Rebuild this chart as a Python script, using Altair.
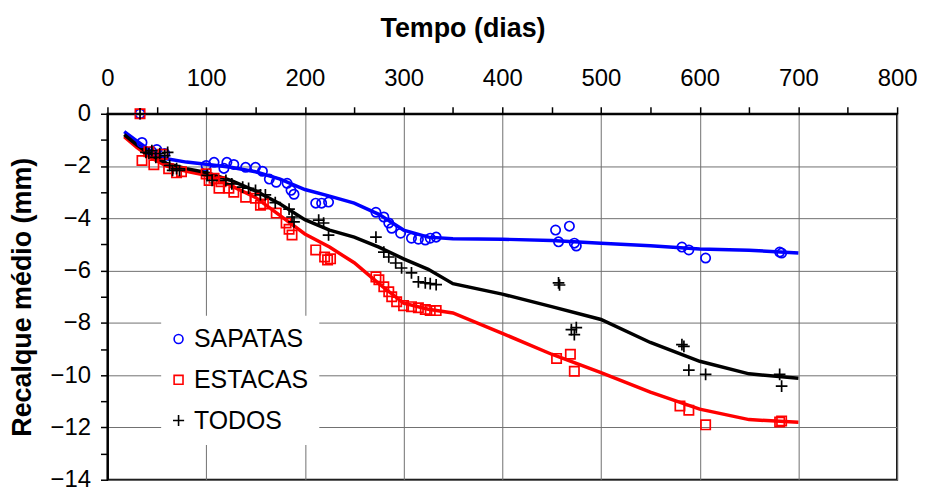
import altair as alt
import pandas as pd

# ---- data ----
series_names = ["SAPATAS", "ESTACAS", "TODOS"]

sap_x = [33, 35, 45, 50, 58, 100, 108, 118, 121, 128, 140, 150, 157, 164, 171, 182, 186, 189,
         211, 217, 224, 272, 280, 285, 288, 297, 308, 315, 322, 327, 333,
         454, 468, 457, 473, 475, 582, 589, 606, 681, 683]
sap_y = [0, -1.1, -1.45, -1.37, -1.52, -1.98, -1.86, -2.09, -1.86, -1.94, -2.05, -2.05, -2.2, -2.5, -2.62, -2.66, -2.93, -3.08,
         -3.42, -3.42, -3.38, -3.77, -3.95, -4.18, -4.38, -4.57, -4.76, -4.8, -4.83, -4.76, -4.72,
         -4.45, -4.3, -4.9, -4.95, -5.06, -5.1, -5.21, -5.52, -5.29, -5.33]

est_x = [33, 35, 42, 47, 56, 62, 70, 75, 100, 103, 108, 115, 113, 123, 128, 140, 150, 155, 158, 171, 181, 184, 187,
         211, 220, 223, 226, 272, 275, 280, 285, 288, 293, 300, 308, 315, 322, 327, 333,
         455, 469, 473, 580, 589, 606, 681, 683]
est_y = [0, -1.79, -1.45, -1.95, -1.55, -2.1, -2.26, -2.22, -2.3, -2.55, -2.47, -2.6, -2.85, -2.85, -3.0, -3.19, -3.23, -3.5, -3.45, -3.8, -4.18, -4.42, -4.64,
         -5.21, -5.48, -5.59, -5.55, -6.24, -6.35, -6.62, -6.81, -7.0, -7.19, -7.34, -7.38, -7.42, -7.49, -7.53, -7.53,
         -9.36, -9.2, -9.85, -11.18, -11.34, -11.9, -11.79, -11.75]

tod_x = [33, 39, 42, 45, 49, 53, 58, 61, 63, 66, 70, 73, 101, 106, 120, 126, 137, 143, 150, 155, 160, 170, 184, 187, 189,
         214, 219, 224, 272, 280, 285, 292, 298, 308, 315, 322, 327, 333,
         457, 458, 470, 475, 473, 582, 584, 589, 606, 681, 683]
tod_y = [0, -1.48, -1.52, -1.41, -1.67, -1.52, -1.6, -1.48, -1.98, -2.17, -2.1, -2.17, -2.36, -2.55, -2.55, -2.68, -2.81, -2.85, -2.93, -3.1, -3.1, -3.4, -3.65, -3.95, -4.14,
         -4.07, -4.18, -4.64, -4.72, -5.29, -5.48, -5.71, -5.9, -6.09, -6.43, -6.47, -6.5, -6.54,
         -6.47, -6.55, -8.26, -8.18, -8.45, -8.83, -8.9, -9.81, -9.97, -9.97, -10.42]

# fitted curves
curve_x = [17, 30, 45, 60, 80, 100, 125, 150, 175, 200, 225, 250, 275, 300, 325, 350,
           400, 450, 500, 550, 600, 650, 700]
curve_sap = [-0.68, -1.05, -1.45, -1.72, -1.85, -1.93, -2.05, -2.22, -2.5, -2.9, -3.15, -3.42,
             -3.85, -4.45, -4.72, -4.78, -4.8, -4.85, -4.95, -5.05, -5.17, -5.22, -5.33]
curve_est = [-0.88, -1.3, -1.7, -2.0, -2.2, -2.35, -2.75, -3.2, -3.9, -4.6, -5.1, -5.7,
             -6.5, -7.25, -7.48, -7.62, -8.4, -9.2, -9.9, -10.65, -11.3, -11.7, -11.8]
curve_tod = [-0.8, -1.2, -1.6, -1.9, -2.1, -2.25, -2.55, -2.95, -3.45, -4.05, -4.45, -4.72,
             -5.1, -5.55, -5.95, -6.5, -6.9, -7.38, -7.87, -8.75, -9.47, -9.95, -10.12]

colors = ["#0000ff", "#ff0000", "#000000"]
shapes = ["circle", "square", "M-1.25,0L1.25,0M0,-1.25L0,1.25"]

pts = pd.concat([
    pd.DataFrame({"dia": sap_x, "recalque": sap_y, "serie": "SAPATAS"}),
    pd.DataFrame({"dia": est_x, "recalque": est_y, "serie": "ESTACAS"}),
    pd.DataFrame({"dia": tod_x, "recalque": tod_y, "serie": "TODOS"}),
], ignore_index=True)

curve_vals = {"SAPATAS": curve_sap, "ESTACAS": curve_est, "TODOS": curve_tod}

FONT = "Liberation Sans"

x_enc = alt.X(
    "dia:Q",
    scale=alt.Scale(domain=[0, 800], nice=False, zero=False),
    axis=alt.Axis(
        orient="top",
        title="Tempo (dias)",
        titleX=357,
        values=list(range(0, 801, 50)),
        labelExpr="datum.value % 100 === 0 ? datum.label : ''",
        labelOverlap=False,
        labelFlush=False,
        gridOpacity={"condition": {"test": "datum.value % 100 === 0", "value": 1}, "value": 0},
        tickSize=7,
        labelPadding=16,
        titlePadding=25,
    ),
)
y_enc = alt.Y(
    "recalque:Q",
    scale=alt.Scale(domain=[-14, 0], nice=False, zero=False),
    axis=alt.Axis(
        orient="left",
        title="Recalque médio (mm)",
        values=list(range(-14, 1)),
        labelExpr="datum.value % 2 === 0 ? datum.label : ''",
        labelOverlap=False,
        labelFlush=False,
        gridOpacity={"condition": {"test": "datum.value % 2 === 0", "value": 1}, "value": 0},
        tickSize=7,
        labelPadding=10,
        titlePadding=14,
    ),
)

color_scale = alt.Scale(domain=series_names, range=colors)
shape_scale = alt.Scale(domain=series_names, range=shapes)

line_layers = []
for name, col in zip(series_names, colors):
    df = pd.DataFrame({"dia": curve_x, "recalque": curve_vals[name]})
    line_layers.append(
        alt.Chart(df).mark_line(strokeWidth=3.5, color=col).encode(x=x_enc, y=y_enc)
    )

points = alt.Chart(pts).mark_point(filled=False, strokeWidth=1.7, size=88, opacity=1).encode(
    x=x_enc,
    y=y_enc,
    color=alt.Color("serie:N", scale=color_scale, legend=alt.Legend(title=None)),
    shape=alt.Shape("serie:N", scale=shape_scale, legend=alt.Legend(title=None)),
)

chart = alt.layer(*line_layers, points).properties(
    width=794,
    height=368,
    autosize=alt.AutoSizeParams(type="none"),
    padding={"left": 100, "top": 105, "right": 20, "bottom": 8},
).configure_view(
    stroke="#000000", strokeWidth=2
).configure_axis(
    labelFont=FONT, titleFont=FONT, labelFontSize=24, titleFontSize=27,
    labelColor="#000000", titleColor="#000000", titleFontWeight="bold",
    domainColor="#000000", domainWidth=2, tickColor="#000000", tickWidth=1.5,
    gridColor="#707070", gridWidth=1,
).configure_legend(
    orient="none", legendX=54, legendY=203,
    fillColor="#ffffff", padding=11, labelFont=FONT, labelFontSize=25,
    labelColor="#000000", rowPadding=15, labelOffset=3, symbolOffset=-6, symbolSize=80,
    symbolStrokeWidth=1.6,
)

chart.save("out.html", embed_options={"renderer": "svg", "actions": False})
